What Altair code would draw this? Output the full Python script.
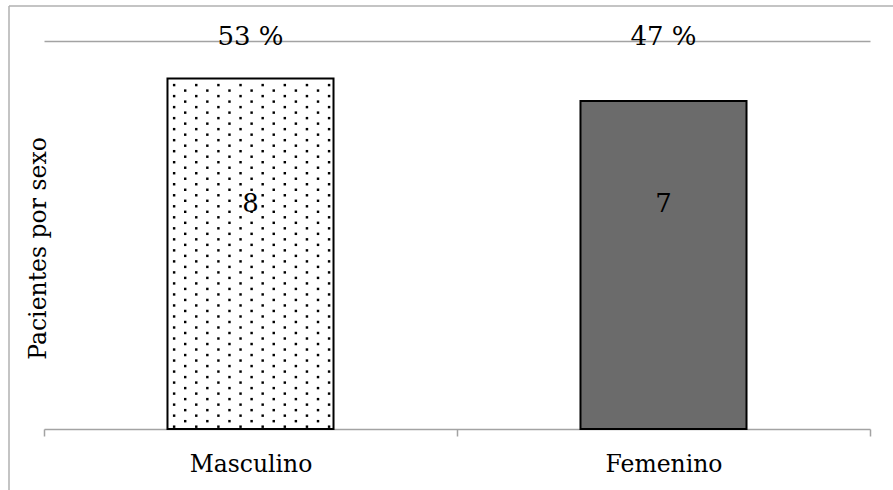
import altair as alt
import pandas as pd

# Patients by sex
sexo = ["Masculino", "Femenino"]
pacientes = [8, 7]

df = pd.DataFrame({"sexo": sexo, "n": pacientes})

FONT = "DejaVu Serif"
GRAY = "#a3a3a3"
BAR_FRACTION = 0.402

y_scale = alt.Scale(type="log", domain=[1, 10])
x_scale = alt.Scale(domain=sexo, paddingInner=0, paddingOuter=0)

base = alt.Chart(df)

bars = base.mark_bar(
    width=alt.RelativeBandSize(BAR_FRACTION), stroke="black", strokeWidth=2
).encode(
    x=alt.X(
        "sexo:N",
        sort=sexo,
        scale=x_scale,
        axis=alt.Axis(
            title=None,
            tickBand="extent",
            tickSize=7,
            tickColor=GRAY,
            tickWidth=1.5,
            domainColor=GRAY,
            domainWidth=1.5,
            labelFont=FONT,
            labelFontSize=23.5,
            labelColor="black",
            labelAngle=0,
            labelBaseline="alphabetic",
            labelPadding=35,
            grid=False,
        ),
    ),
    y=alt.Y(
        "n:Q",
        scale=y_scale,
        stack=None,
        axis=alt.Axis(
            title="Pacientes por sexo",
            values=[10],
            labels=False,
            ticks=False,
            domain=False,
            grid=True,
            gridColor=GRAY,
            gridWidth=1.5,
            titleFont=FONT,
            titleFontSize=23.5,
            titleFontWeight="normal",
            titleColor="black",
            titleAngle=270,
            titleX=-6,
            titleY=207,
            titleAlign="center",
            titleBaseline="middle",
        ),
    ),
    y2=alt.datum(1),
    fill=alt.Fill(
        "sexo:N", scale=alt.Scale(domain=sexo, range=["white", "#6b6b6b"]), legend=None
    ),
)

# Dotted texture inside the "Masculino" bar, derived from its count
dots = (
    base.transform_filter(alt.datum.sexo == "Masculino")
    .transform_calculate(col="sequence(0, 15)")
    .transform_flatten(["col"])
    .transform_calculate(row="sequence(0, 40)")
    .transform_flatten(["row"])
    .transform_calculate(
        xq=f"{(1 - BAR_FRACTION) / 2} + {BAR_FRACTION} * (datum.col + 0.6) / 15",
        dec="0.006 + datum.row * 0.0284 + (datum.col % 2) * 0.0142",
    )
    .transform_filter("datum.dec < log(datum.n) / LN10 - 0.005")
    .transform_calculate(v="pow(10, datum.dec)")
    .mark_square(size=6, color="black", opacity=1)
    .encode(
        x=alt.X("xq:Q", scale=alt.Scale(domain=[0, 2], nice=False, zero=False), axis=None),
        y=alt.Y("v:Q", scale=y_scale),
    )
)

# Count inside each bar
counts = base.mark_text(font=FONT, fontSize=26, color="black", baseline="middle").encode(
    x=alt.X("sexo:N", sort=sexo, scale=x_scale, axis=None),
    y=alt.datum(3.8, scale=y_scale),
    text=alt.Text("n:Q"),
)

# Share of patients above the bars
shares = (
    base.transform_joinaggregate(total="sum(n)")
    .transform_calculate(pct="format(100 * datum.n / datum.total, '.0f') + ' %'")
    .mark_text(font=FONT, fontSize=26, color="black", baseline="alphabetic", dy=4)
    .encode(
        x=alt.X("sexo:N", sort=sexo, scale=x_scale, axis=None),
        y=alt.datum(10, scale=y_scale),
        text="pct:N",
    )
)

# Chart-area frame (top and left edges)
frame = alt.Chart(df.head(1))
frame_top = frame.mark_rule(color="#b0b0b0", strokeWidth=1.5).encode(
    x=alt.value(-35), x2=alt.value(860), y=alt.value(-35)
)
frame_left = frame.mark_rule(color="#b0b0b0", strokeWidth=1.5).encode(
    x=alt.value(-35), y=alt.value(-35), y2=alt.value(460)
)

chart = (
    alt.layer(bars, dots, counts, shares, frame_top, frame_left)
    .resolve_scale(x="independent")
    .properties(
        width=826,
        height=388,
        padding={"left": 44, "top": 41, "right": 23, "bottom": 61},
        autosize="none",
        background="white",
    )
    .configure_view(stroke=None)
)

chart.save("out.html", embed_options={"renderer": "svg", "actions": False})
